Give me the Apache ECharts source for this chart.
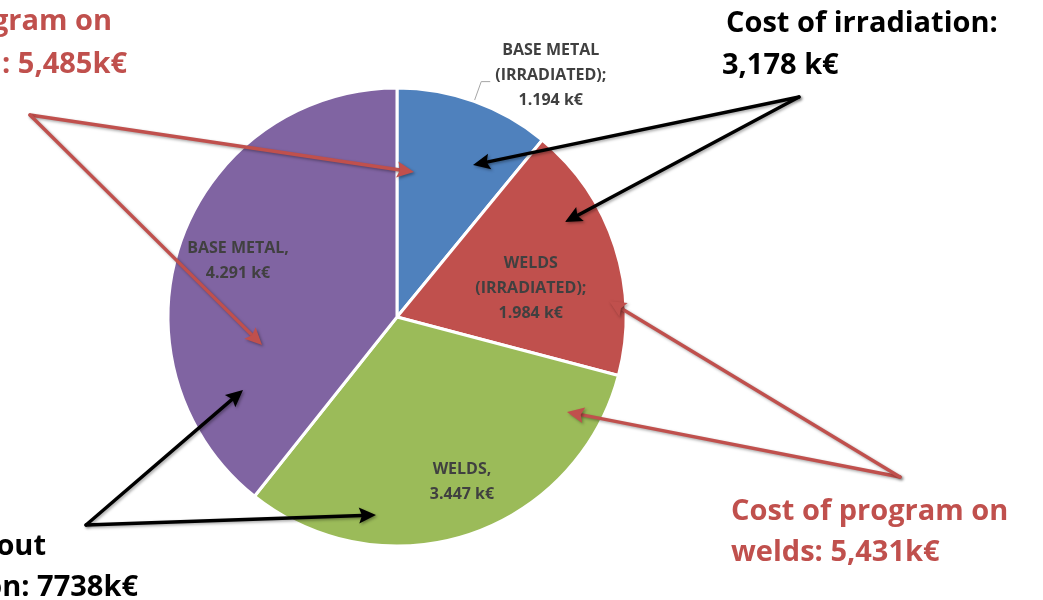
<!DOCTYPE html>
<html>
<head>
<meta charset="utf-8">
<script src="https://cdn.jsdelivr.net/npm/echarts@6/dist/echarts.min.js"></script>
<style>
html,body{margin:0;padding:0;background:#fff;}
#chart{width:1043px;height:600px;}
</style>
</head>
<body>
<div id="chart"></div>
<script>
// ---- data ----
const categories = ['BASE METAL (IRRADIATED)', 'WELDS (IRRADIATED)', 'WELDS', 'BASE METAL'];
const labelNames = ['BASE METAL\n(IRRADIATED);', 'WELDS\n(IRRADIATED);', 'WELDS,', 'BASE METAL,'];
const values = [1.194, 1.984, 3.447, 4.291];
const sliceColors = ['#4F81BD', '#C0504D', '#9BBB59', '#8064A2'];

// annotation texts (each line separately)
const annTopLeft = ['Cost of program on', 'base metal: 5,485k€'];
const annTopRight = ['Cost of irradiation:', '3,178 k€'];
const annBottomLeft = ['Cost without', 'irradiation: 7738k€'];
const annBottomRight = ['Cost of program on', 'welds: 5,431k€'];

const RED = '#C0504D';
const BLACK = '#000000';
const FONT = '"Open Sans", "Noto Sans", sans-serif';

// label offsets from default inside position
const labelShift = [null, [22, 8], [28, 53], [-48, -17]];

const chart = echarts.init(document.getElementById('chart'), null, {renderer: 'canvas'});

function arrow(from, to, color) {
  const dx = to[0] - from[0], dy = to[1] - from[1];
  const len = Math.sqrt(dx * dx + dy * dy);
  const ux = dx / len, uy = dy / len;
  const nx = -uy, ny = ux;
  const L = 17, W = 8;
  const base = [to[0] - ux * L, to[1] - uy * L];
  const shadow = {shadowBlur: 3, shadowColor: 'rgba(0,0,0,0.35)', shadowOffsetX: 1.5, shadowOffsetY: 1.5};
  return [
    {
      type: 'line', z: 100, silent: true,
      shape: {x1: from[0], y1: from[1], x2: base[0] + ux * 3, y2: base[1] + uy * 3},
      style: Object.assign({stroke: color, lineWidth: 3.4, lineCap: 'round'}, shadow)
    },
    {
      type: 'polygon', z: 101, silent: true,
      shape: {points: [to, [base[0] + nx * W, base[1] + ny * W], [base[0] + ux * 3, base[1] + uy * 3], [base[0] - nx * W, base[1] - ny * W]]},
      style: Object.assign({fill: color}, shadow)
    }
  ];
}

function textLine(x, y, text, color, align) {
  return {
    type: 'text', z: 110, silent: true,
    x: x, y: y,
    style: {
      text: text, fill: color, font: 'bold 29px ' + FONT,
      textAlign: align, textVerticalAlign: 'middle'
    }
  };
}

const graphics = [].concat(
  arrow([30, 115], [414, 172], RED),
  arrow([30, 115], [262, 345], RED),
  arrow([799, 97], [473, 165], BLACK),
  arrow([799, 97], [565, 222], BLACK),
  arrow([86, 525], [243, 390], BLACK),
  arrow([86, 525], [376, 515], BLACK),
  arrow([900, 477], [567, 412], RED),
  arrow([900, 477], [609, 301], RED),
  [
    textLine(112, 22, annTopLeft[0], RED, 'right'),
    textLine(127, 65, annTopLeft[1], RED, 'right'),
    textLine(726, 24, annTopRight[0], BLACK, 'left'),
    textLine(722, 66, annTopRight[1], BLACK, 'left'),
    textLine(46, 547, annBottomLeft[0], BLACK, 'right'),
    textLine(138, 588, annBottomLeft[1], BLACK, 'right'),
    textLine(731, 512, annBottomRight[0], RED, 'left'),
    textLine(731, 553, annBottomRight[1], RED, 'left')
  ]
);

const seriesData = categories.map(function (name, i) {
  const item = {name: name, value: values[i], itemStyle: {color: sliceColors[i]}};
  if (i === 0) {
    item.label = {
      position: 'outside',
      formatter: function (p) {
        return labelNames[p.dataIndex].split('\n').concat([p.value.toFixed(3) + ' k€'])
          .map(function (s) { return '{a|' + s + '}'; }).join('\n');
      },
      padding: [0, 0, 12, 0],
      rich: {a: {align: 'center', fontSize: 16, fontWeight: 'bold', color: '#404040', lineHeight: 25, fontFamily: FONT}}
    };
    item.labelLine = {show: true, length: 21, length2: 9, lineStyle: {color: '#A6A6A6', width: 1}};
  }
  return item;
});

const option = {
  backgroundColor: '#ffffff',
  animation: false,
  series: [{
    type: 'pie',
    center: [397, 317],
    radius: 229,
    startAngle: 90,
    clockwise: true,
    avoidLabelOverlap: false,
    itemStyle: {borderColor: '#ffffff', borderWidth: 3},
    label: {
      show: true,
      position: 'inside',
      color: '#404040',
      fontSize: 16,
      fontWeight: 'bold',
      lineHeight: 25,
      fontFamily: FONT,
      formatter: function (p) {
        return labelNames[p.dataIndex] + '\n' + p.value.toFixed(3) + ' k€';
      }
    },
    labelLine: {show: false},
    labelLayout: function (params) {
      const s = labelShift[params.dataIndex];
      if (!s) return {};
      return {dx: s[0], dy: s[1]};
    },
    emphasis: {disabled: true},
    data: seriesData
  }],
  graphic: graphics
};

chart.setOption(option);
</script>
</body>
</html>
